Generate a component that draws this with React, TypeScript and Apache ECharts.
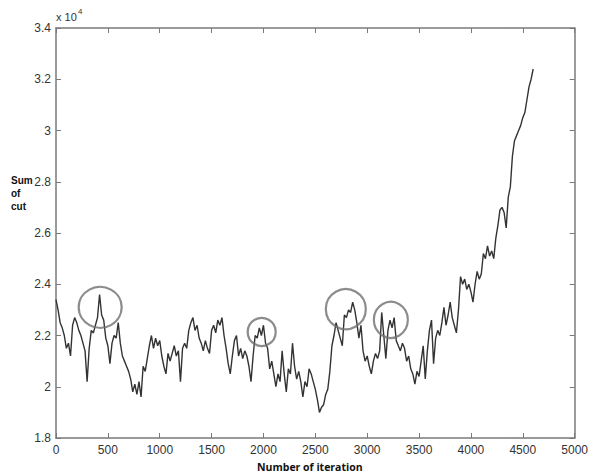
import React, { useEffect, useRef } from "react";
import * as echarts from "echarts";

// Iteration spacing of the sampled trace
const ITERATION_STEP = 20;

// Sum of cut (in units of 10^4), sampled every ITERATION_STEP iterations from 0 to 4600
const SUM_OF_CUT_E4: number[] = [
  2.34, 2.30, 2.25, 2.23, 2.20, 2.15, 2.17, 2.12, 2.24, 2.27,
  2.25, 2.22, 2.20, 2.17, 2.14, 2.02, 2.15, 2.22, 2.21, 2.24,
  2.27, 2.36, 2.28, 2.26, 2.19, 2.16, 2.09, 2.17, 2.20, 2.19,
  2.25, 2.17, 2.12, 2.10, 2.08, 2.06, 2.03, 1.98, 2.01, 1.97,
  2.02, 1.96, 2.08, 2.06, 2.11, 2.16, 2.20, 2.15, 2.19, 2.16,
  2.18, 2.12, 2.08, 2.05, 2.13, 2.10, 2.13, 2.16, 2.12, 2.14,
  2.02, 2.15, 2.17, 2.15, 2.22, 2.25, 2.27, 2.22, 2.24, 2.19,
  2.17, 2.14, 2.18, 2.15, 2.13, 2.22, 2.24, 2.21, 2.26, 2.24,
  2.27, 2.20, 2.15, 2.09, 2.05, 2.12, 2.18, 2.20, 2.12, 2.15,
  2.11, 2.14, 2.12, 2.08, 2.02, 2.12, 2.20, 2.19, 2.23, 2.20,
  2.24, 2.17, 2.15, 2.07, 2.10, 2.05, 2.00, 2.05, 2.02, 2.14,
  2.05, 1.98, 2.07, 2.05, 2.17, 2.08, 2.03, 2.06, 2.02, 1.96,
  2.02, 2.00, 2.07, 2.05, 2.02, 1.99, 1.95, 1.90, 1.92, 1.93,
  1.97, 1.99, 2.06, 2.16, 2.20, 2.25, 2.22, 2.19, 2.16, 2.28,
  2.27, 2.30, 2.29, 2.33, 2.30, 2.25, 2.19, 2.24, 2.14, 2.10,
  2.12, 2.08, 2.05, 2.10, 2.13, 2.11, 2.14, 2.29, 2.20, 2.11,
  2.22, 2.26, 2.23, 2.27, 2.18, 2.16, 2.14, 2.17, 2.15, 2.10,
  2.12, 2.07, 2.05, 2.01, 2.06, 2.04, 2.10, 2.16, 2.03, 2.14,
  2.22, 2.26, 2.09, 2.19, 2.22, 2.20, 2.25, 2.31, 2.24, 2.28,
  2.33, 2.27, 2.24, 2.21, 2.30, 2.43, 2.40, 2.42, 2.38, 2.40,
  2.37, 2.33, 2.40, 2.45, 2.42, 2.44, 2.52, 2.50, 2.55, 2.51,
  2.53, 2.50, 2.58, 2.63, 2.69, 2.70, 2.68, 2.62, 2.74, 2.78,
  2.90, 2.96, 2.98, 3.00, 3.02, 3.05, 3.07, 3.12, 3.17, 3.20,
  3.24,
];

// Annotated regions (circle centres: [iteration, sum of cut ×10^4])
const CIRCLE_CENTERS: [number, number][] = [
  [426, 2.31],
  [1983, 2.214],
  [2794, 2.303],
  [3228, 2.261],
];

// Axis settings
const X_MIN = 0;
const X_MAX = 5000;
const X_INTERVAL = 500;
const Y_MIN = 1.8;
const Y_MAX = 3.4;
const Y_INTERVAL = 0.2;

export default function App() {
  const ref = useRef<HTMLDivElement>(null);

  useEffect(() => {
    if (!ref.current) return;
    const chart = echarts.init(ref.current, undefined, { renderer: "svg" });

    const circleSizes: [number, number][] = [
      [43, 41],
      [28, 28],
      [40, 40],
      [34, 36],
    ];

    const axisColor = "#7a7a7a";
    const labelStyle = {
      color: "#333",
      fontFamily: "Liberation Sans, Arial, sans-serif",
      fontSize: 12,
    };

    const baseX = {
      type: "value" as const,
      min: X_MIN,
      max: X_MAX,
      interval: X_INTERVAL,
      splitLine: { show: false },
      axisLine: { show: true, onZero: false, lineStyle: { color: axisColor, width: 1.5 } },
      axisTick: { show: true, inside: true, length: 5, lineStyle: { color: axisColor, width: 1 } },
    };
    const baseY = {
      type: "value" as const,
      min: Y_MIN,
      max: Y_MAX,
      interval: Y_INTERVAL,
      splitLine: { show: false },
      axisLine: { show: true, onZero: false, lineStyle: { color: axisColor, width: 1.5 } },
      axisTick: { show: true, inside: true, length: 5, lineStyle: { color: axisColor, width: 1 } },
    };

    chart.setOption({
      animation: false,
      backgroundColor: "#ffffff",
      grid: { left: 56, top: 28, right: 13, bottom: 38, containLabel: false },
      xAxis: [
        {
          ...baseX,
          position: "bottom",
          axisLabel: { ...labelStyle, margin: 6, formatter: (v: number) => String(v) },
        },
        {
          ...baseX,
          position: "top",
          axisLabel: { show: false },
        },
      ],
      yAxis: [
        {
          ...baseY,
          position: "left",
          axisLabel: {
            ...labelStyle,
            margin: 5,
            formatter: (v: number) => String(+v.toFixed(1)),
          },
        },
        {
          ...baseY,
          position: "right",
          axisLabel: { show: false },
        },
      ],
      series: [
        {
          type: "line",
          xAxisIndex: 0,
          yAxisIndex: 0,
          data: SUM_OF_CUT_E4.map((v, i) => [i * ITERATION_STEP, v]),
          showSymbol: false,
          symbol: "none",
          lineStyle: { color: "#333333", width: 1.4 },
          silent: true,
          z: 2,
        },
        {
          type: "scatter",
          xAxisIndex: 0,
          yAxisIndex: 0,
          data: CIRCLE_CENTERS,
          symbol: "circle",
          symbolSize: (_v: any, p: any) => circleSizes[p.dataIndex],
          itemStyle: { color: "rgba(0,0,0,0)", borderColor: "#6f6f6f", borderWidth: 2.2 },
          silent: true,
          z: 3,
        },
      ],
      graphic: [
        {
          type: "text",
          left: 56,
          top: 11,
          style: { text: "x 10", fill: "#333", font: "11px 'Liberation Sans', Arial, sans-serif" },
        },
        {
          type: "text",
          left: 78,
          top: 7,
          style: { text: "4", fill: "#333", font: "8px 'Liberation Sans', Arial, sans-serif" },
        },
        {
          type: "text",
          left: 11,
          top: 174,
          style: {
            text: "Sum\nof\ncut",
            fill: "#111",
            font: "bold 10px 'Liberation Sans', Arial, sans-serif",
            lineHeight: 13,
          },
        },
        {
          type: "text",
          left: 257,
          top: 461,
          style: {
            text: "Number of iteration",
            fill: "#111",
            font: "bold 10.5px 'Open Sans', 'Liberation Sans', sans-serif",
          },
        },
      ],
    });

    return () => chart.dispose();
  }, []);

  return (
    <div
      ref={ref}
      style={{ position: "absolute", left: 0, top: 0, width: 591, height: 476, background: "#fff" }}
    />
  );
}
